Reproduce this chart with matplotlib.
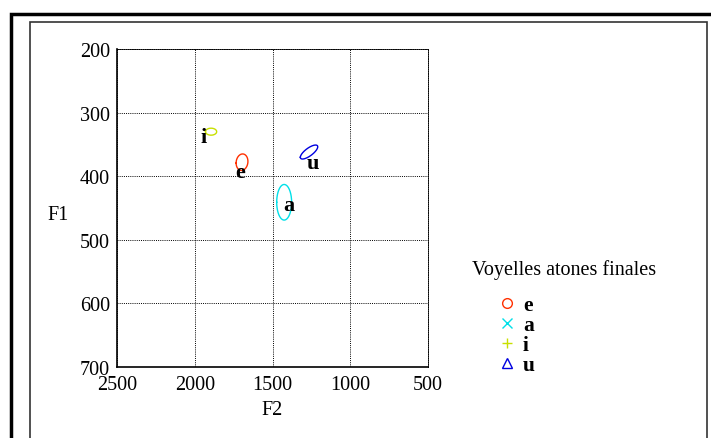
import numpy as np
import matplotlib.pyplot as plt
from matplotlib.lines import Line2D
from matplotlib.patches import Rectangle

# vowel ellipses: centre (F2, F1), half-widths, tilt (correlation)
vowels = ['e', 'a', 'i', 'u']
colors = ['#ff3000', '#00e0e8', '#c8e000', '#0000e0']
markers = ['o', 'x', '+', '^']
f2_center = [1696, 1425, 1895, 1265]
f1_center = [378, 441, 330, 362]
f2_radius = [38, 48, 36, 56]
f1_radius = [13, 28, 5.5, 11]
corr = [0.1, 0.0, 0.0, 0.75]
label_f2 = [1710, 1395, 1942, 1240]
label_f1 = [393, 446, 338, 380]

xticks = [2500, 2000, 1500, 1000, 500]
yticks = [200, 300, 400, 500, 600, 700]

plt.rcParams['font.family'] = ['Liberation Serif', 'DejaVu Serif']

fig = plt.figure(figsize=(7.11, 4.39), dpi=100)
ax = fig.add_axes([117 / 711, 1 - 368 / 439, 311 / 711, 318 / 439])

t = np.linspace(0, 2 * np.pi, 200)
for i, v in enumerate(vowels):
    x = f2_center[i] + f2_radius[i] * np.cos(t)
    y = f1_center[i] + f1_radius[i] * (corr[i] * np.cos(t) + np.sqrt(1 - corr[i] ** 2) * np.sin(t))
    ax.plot(x, y, color=colors[i], lw=1)
    ax.text(label_f2[i], label_f1[i], v, fontsize=16, fontweight='bold',
            ha='center', va='center')

ax.set_xlim(2500, 500)
ax.set_ylim(700, 200)
ax.set_xticks(xticks)
ax.set_yticks(yticks)
ax.grid(True, color='black', linestyle=(0, (1, 1.2)), linewidth=0.7)
ax.tick_params(length=0, labelsize=14.5)
ax.tick_params(axis='x', pad=6)
ax.tick_params(axis='y', pad=5)
for s in ['top', 'right']:
    ax.spines[s].set_linestyle((0, (1, 1.2)))
    ax.spines[s].set_linewidth(0.7)
for s in ['left', 'bottom']:
    ax.spines[s].set_linewidth(1.2)
ax.set_xlabel('F2', fontsize=14.5, labelpad=4)
ax.set_ylabel('F1', fontsize=14.5, rotation=0)
ax.yaxis.set_label_coords(-0.19, 0.45)

fig.text(472 / 711, 1 - 270 / 439, 'Voyelles atones finales', fontsize=14.5, va='center')
handles = [Line2D([], [], color=colors[i], marker=markers[i], linestyle='none',
                  markerfacecolor='none', markersize=7, markeredgewidth=1)
           for i in range(len(vowels))]
leg = fig.legend(handles, vowels, loc='upper left', bbox_to_anchor=(494 / 711, 1 - 296 / 439),
                 frameon=False, prop={'size': 15.5, 'weight': 'bold'}, handlelength=1.2,
                 handletextpad=0.15, labelspacing=0.0, borderaxespad=0, borderpad=0)

# page frames
fig.add_artist(Rectangle((11 / 711, -0.1), 1.0, 1 - 15 / 439 + 0.1, transform=fig.transFigure,
                         fill=False, edgecolor='black', linewidth=2.5))
fig.add_artist(Rectangle((29.5 / 711, -0.1), 677.5 / 711, 1 - 22.5 / 439 + 0.1,
                         transform=fig.transFigure, fill=False, edgecolor='#333333', linewidth=1.2))

fig.savefig('out.png', dpi=100)
